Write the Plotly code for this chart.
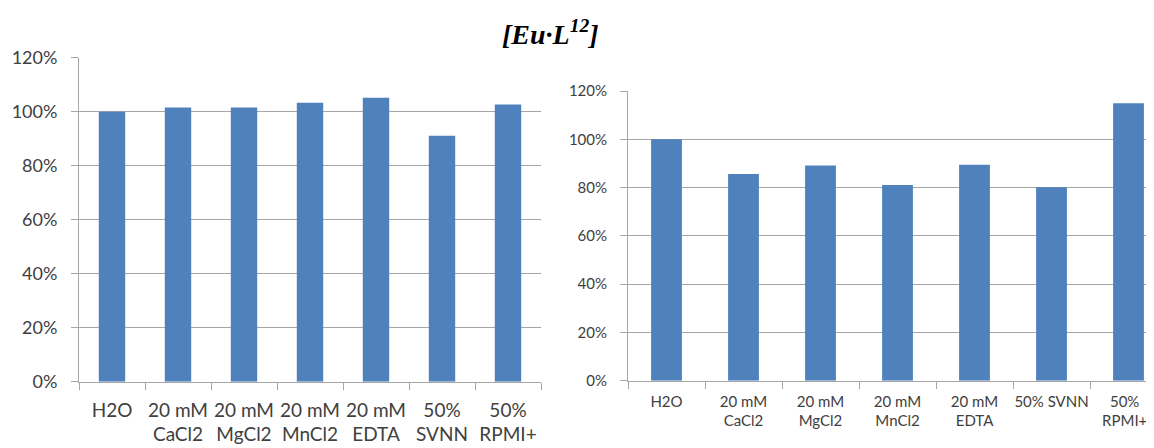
import plotly.graph_objects as go

# ---- data ----
left_categories = ["H2O", "20 mM<br>CaCl2", "20 mM<br>MgCl2", "20 mM<br>MnCl2",
                   "20 mM<br>EDTA", "50%<br>SVNN", "50%<br>RPMI+"]
left_values = [1.000, 1.016, 1.016, 1.033, 1.052, 0.911, 1.027]

right_categories = ["H2O", "20 mM<br>CaCl2", "20 mM<br>MgCl2", "20 mM<br>MnCl2",
                    "20 mM<br>EDTA", "50% SVNN", "50%<br>RPMI+"]
right_values = [1.000, 0.856, 0.891, 0.811, 0.894, 0.801, 1.149]
# tick labels for the right chart (last one padded so it is not clipped at the edge)
right_ticktext = ["H2O", "20 mM<br>CaCl2", "20 mM<br>MgCl2", "20 mM<br>MnCl2",
                  "20 mM<br>EDTA", "50% SVNN", "50%\u00a0\u00a0<br>RPMI+\u00a0\u00a0"]

y_tickvals = [0, 0.2, 0.4, 0.6, 0.8, 1.0, 1.2]
y_ticktext = ["0%", "20%", "40%", "60%", "80%", "100%", "120%"]

title_text = "<b><i>[Eu·L<sup>12</sup>]</i></b>"

# ---- layout helpers (screen pixels; page body has an 8px margin) ----
OFF = 8
W, H = 1154 - OFF, 448 - OFF
def px_x(p): return (p - OFF) / W
def px_y(p): return (H - (p - OFF)) / H

BAR = "#4f81bd"
GRID = "#a6a6a6"
TXT = "#404040"

fig = go.Figure()
fig.add_trace(go.Bar(x=left_categories, y=left_values, width=0.4,
                     marker=dict(color=BAR, line=dict(width=0)),
                     xaxis="x", yaxis="y", showlegend=False))
fig.add_trace(go.Bar(x=right_categories, y=right_values, width=0.4,
                     marker=dict(color=BAR, line=dict(width=0)),
                     xaxis="x2", yaxis="y2", showlegend=False))

common_y = dict(range=[0, 1.2], tickvals=y_tickvals, ticktext=y_ticktext,
                showgrid=True, gridcolor=GRID, gridwidth=1,
                showline=True, linecolor=GRID, linewidth=1,
                ticks="outside", ticklen=7, tickcolor=GRID,
                zeroline=False, fixedrange=True, automargin=False)
common_x = dict(type="category", showgrid=False, showline=True, linecolor=GRID,
                linewidth=1, ticks="outside", tickson="boundaries", ticklen=7,
                tickcolor=GRID, zeroline=False, tickangle=0, automargin=False,
                fixedrange=True)

fig.update_layout(
    width=W, height=H, autosize=False,
    margin=dict(l=0, r=0, t=0, b=0, pad=0, autoexpand=False),
    paper_bgcolor="white", plot_bgcolor="white",
    bargap=0.6,
    xaxis=dict(domain=[px_x(79), px_x(541)], anchor="y",
               range=[-0.5, 6.5],
               tickfont=dict(family="Lato", size=19, color=TXT),
               ticklabelstandoff=11, **common_x),
    yaxis=dict(domain=[px_y(381.7), px_y(57.7)], anchor="x",
               tickfont=dict(family="Lato", size=18, color=TXT),
               ticklabelstandoff=10, **common_y),
    xaxis2=dict(domain=[px_x(628), 1.0], anchor="y2",
                range=[-0.5, 6.331],
                tickvals=right_categories, ticktext=right_ticktext,
                tickfont=dict(family="Lato", size=15, color=TXT),
                ticklabelstandoff=7, **common_x),
    yaxis2=dict(domain=[px_y(380.7), px_y(91)], anchor="x2",
                tickfont=dict(family="Lato", size=15, color=TXT),
                ticklabelstandoff=10, **common_y),
    shapes=[dict(type="rect", xref="paper", yref="paper",
                 x0=px_x(463), x1=px_x(548), y0=px_y(61), y1=px_y(54),
                 fillcolor="white", line=dict(width=0), layer="above")],
    annotations=[dict(text=title_text, xref="paper", yref="paper",
                      x=px_x(550), y=px_y(32), xanchor="center", yanchor="middle",
                      showarrow=False,
                      font=dict(family="Liberation Serif, DejaVu Serif, Noto Serif, serif",
                                size=28, color="black"))],
)

fig.write_html("out.html")
